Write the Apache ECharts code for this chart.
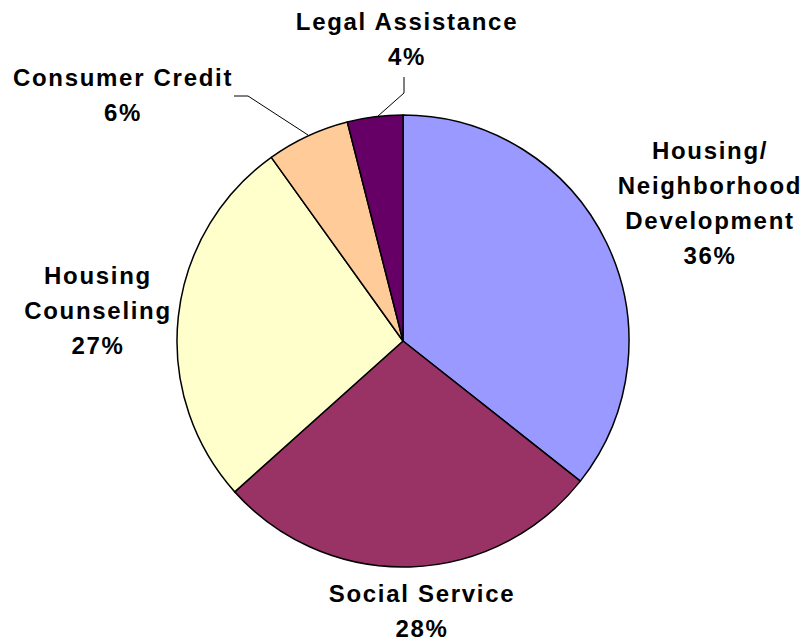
<!DOCTYPE html>
<html>
<head>
<meta charset="utf-8">
<script src="https://cdn.jsdelivr.net/npm/echarts@6/dist/echarts.min.js"></script>
<style>
  html, body { margin: 0; padding: 0; background: #fff; }
  #main { width: 804px; height: 642px; }
  /* the original labels are widely tracked */
  #main text { letter-spacing: 1.7px; }
</style>
</head>
<body>
<div id="main"></div>
<script>
// slices clockwise from 12 o'clock
const categories = [
  "Housing/\nNeighborhood\nDevelopment",
  "Social Service",
  "Housing\nCounseling",
  "Consumer Credit",
  "Legal Assistance",
];
const shares = [36, 28, 27, 6, 4];
const colors = ["#9999ff", "#993366", "#ffffcc", "#ffcc99", "#660066"];

// label anchors (block centre) for each slice
const labelPos = [
  [710, 203],
  [422, 611],
  [98, 310],
  [123, 95],
  [407, 39],
];
const leaderLines = {
  3: [[308, 135], [248, 96], [234, 96]],
  4: [[378, 116], [404, 93], [404, 77]],
};

const chart = echarts.init(document.getElementById("main"), null, { renderer: "svg" });
chart.setOption({
  animation: false,
  series: [
    {
      type: "pie",
      center: [403, 341],
      radius: 226,
      startAngle: 90,
      clockwise: true,
      data: categories.map((name, i) => ({
        name: name,
        value: shares[i],
        itemStyle: { color: colors[i] },
        labelLine: { show: i >= 3 },
      })),
      itemStyle: {
        borderColor: "#000",
        borderWidth: 1.5,
      },
      label: {
        show: true,
        position: "outside",
        overflow: "none",
        formatter: (p) => p.name + "\n" + p.value + "%",
        fontFamily: "Liberation Sans, Arial, sans-serif",
        fontWeight: "bold",
        fontSize: 24,
        lineHeight: 35,
        color: "#000",
        align: "center",
      },
      labelLine: {
        lineStyle: { color: "#000", width: 1 },
      },
      labelLayout: (params) => {
        const i = params.dataIndex;
        const out = {
          x: labelPos[i][0],
          y: labelPos[i][1],
          align: "center",
          verticalAlign: "middle",
        };
        if (leaderLines[i]) out.labelLinePoints = leaderLines[i];
        return out;
      },
      emphasis: { disabled: true },
    },
  ],
});
window.addEventListener("resize", () => chart.resize());
</script>
</body>
</html>
